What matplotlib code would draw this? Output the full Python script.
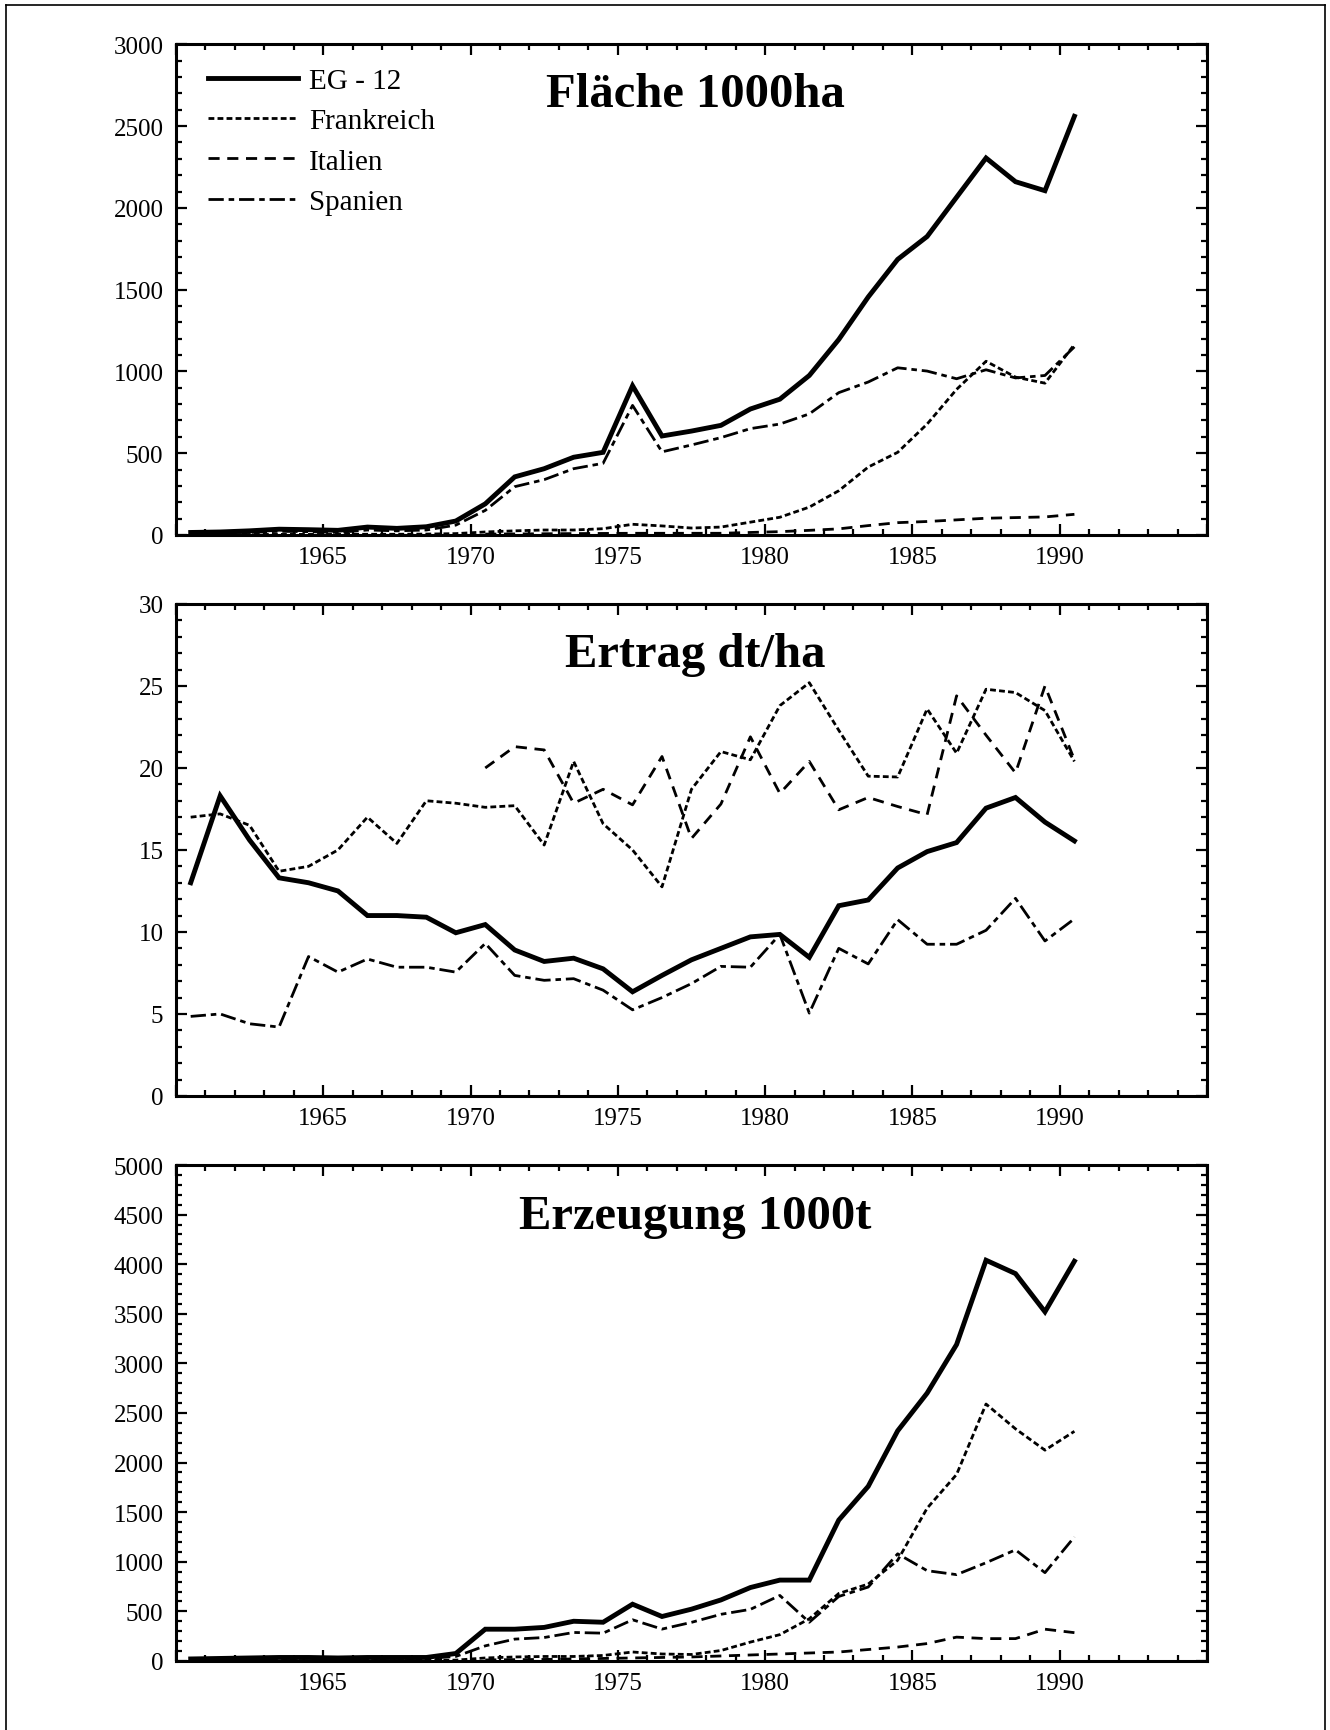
import matplotlib
matplotlib.use("Agg")
import matplotlib.pyplot as plt
from matplotlib.lines import Line2D
from matplotlib.ticker import MultipleLocator
import numpy as np

plt.rcParams['font.family'] = ['Liberation Serif', 'DejaVu Serif']
plt.rcParams['lines.scale_dashes'] = False

# Jahre 1960-1990, Werte jeweils zur Jahresmitte
years = list(range(1960, 1991))
series_names = ['EG - 12', 'Frankreich', 'Italien', 'Spanien']
NA = None

# Fläche 1000ha
eg12_flaeche = [15, 18, 25, 35, 32, 28, 48, 40, 50, 85, 190, 355, 405, 475, 505, 912,
                605, 635, 670, 770, 830, 975, 1195, 1455, 1685, 1825, 2065, 2305, 2160, 2105, 2560]
frankreich_flaeche = [2, 2, 3, 3, 3, 3, 4, 4, 5, 8, 18, 25, 30, 30, 38, 65,
                      55, 42, 48, 78, 108, 170, 270, 415, 505, 678, 890, 1062, 965, 928, 1165]
italien_flaeche = [NA] * 10 + [5, 6, 7, 8, 9, 10, 10, 10, 10, 15, 20, 28, 37, 57, 75, 82,
                               92, 102, 106, 110, 126]
spanien_flaeche = [8, 10, 15, 22, 20, 15, 30, 25, 30, 60, 150, 295, 338, 405, 438, 792,
                   508, 550, 595, 650, 678, 740, 870, 935, 1022, 1002, 955, 1010, 960, 975, 1150]

# Ertrag dt/ha
eg12_ertrag = [13.0, 18.3, 15.6, 13.3, 13.0, 12.5, 11.0, 11.0, 10.9, 9.95, 10.45, 8.9, 8.2,
               8.4, 7.75, 6.35, 7.35, 8.3, 9.0, 9.7, 9.85, 8.45, 11.6, 11.95, 13.9, 14.9,
               15.45, 17.55, 18.2, 16.7, 15.55]
frankreich_ertrag = [17.0, 17.2, 16.5, 13.7, 14.0, 15.0, 17.0, 15.4, 18.0, 17.85, 17.6, 17.7,
                     15.3, 20.4, 16.6, 15.0, 12.75, 18.7, 21.0, 20.5, 23.8, 25.2, 22.3, 19.5,
                     19.45, 23.6, 20.9, 24.8, 24.6, 23.5, 20.4]
italien_ertrag = [NA] * 10 + [20.0, 21.3, 21.1, 17.85, 18.7, 17.75, 20.7, 15.7, 17.8, 21.9,
                              18.45, 20.4, 17.45, 18.2, 17.65, 17.15, 24.4, 22.0, 19.7, 25.0, 20.5]
spanien_ertrag = [4.85, 5.0, 4.4, 4.2, 8.5, 7.55, 8.35, 7.85, 7.85, 7.55, 9.3, 7.35, 7.05,
                  7.15, 6.45, 5.25, 6.0, 6.85, 7.9, 7.85, 9.85, 5.05, 9.0, 8.05, 10.75, 9.25,
                  9.25, 10.1, 12.05, 9.45, 10.8]

# Erzeugung 1000t
eg12_erzeugung = [20, 25, 30, 35, 35, 30, 35, 35, 35, 75, 320, 320, 338, 400, 390, 572,
                  448, 522, 615, 740, 815, 815, 1420, 1760, 2320, 2700, 3190, 4040, 3905, 3520, 4030]
frankreich_erzeugung = [2, 2, 2, 3, 3, 3, 4, 4, 5, 8, 30, 40, 45, 45, 55, 90,
                        70, 65, 105, 190, 265, 425, 680, 775, 1015, 1540, 1880, 2590, 2340, 2125, 2315]
italien_erzeugung = [NA] * 10 + [10, 13, 15, 20, 25, 30, 35, 40, 50, 60, 70, 80, 90, 115,
                                 140, 175, 240, 225, 225, 320, 285]
spanien_erzeugung = [15, 18, 20, 25, 25, 20, 25, 25, 25, 45, 152, 220, 236, 287, 280, 415,
                     321, 389, 470, 520, 660, 390, 650, 745, 1080, 910, 870, 990, 1120, 890, 1250]

panels = [
    ('Fläche 1000ha', [eg12_flaeche, frankreich_flaeche, italien_flaeche, spanien_flaeche],
     3000, 500, 100),
    ('Ertrag dt/ha', [eg12_ertrag, frankreich_ertrag, italien_ertrag, spanien_ertrag],
     30, 5, 1),
    ('Erzeugung 1000t', [eg12_erzeugung, frankreich_erzeugung, italien_erzeugung, spanien_erzeugung],
     5000, 500, 100),
]

styles = [
    dict(lw=3.5, ls='-'),
    dict(lw=2.0, dashes=(4.2, 2.3)),
    dict(lw=2.0, dashes=(8, 5.5)),
    dict(lw=2.0, dashes=(11, 3.5, 4, 3.5)),
]

fig = plt.figure(figsize=(13.3, 17.31), dpi=100)
# (bottom, height) in figure fraction
boxes = [(0.6904, 0.2834), (0.3663, 0.2842), (0.0399, 0.2865)]

x = np.array(years) + 0.5
for (title, data, ymax, ymaj, ymin), (b, h) in zip(panels, boxes):
    ax = fig.add_axes([0.1323, b, 0.7752, h])
    for vals, name, st in zip(data, series_names, styles):
        y = np.array([np.nan if v is None else v for v in vals], dtype=float)
        ax.plot(x, y, color='black', label=name, solid_joinstyle='miter', **st)
    ax.set_xlim(1960, 1995)
    ax.set_ylim(0, ymax)
    ax.set_xticks(range(1960, 1996, 5))
    ax.set_xticklabels([''] + [str(t) for t in range(1965, 1991, 5)] + [''])
    ax.xaxis.set_minor_locator(MultipleLocator(1))
    ax.yaxis.set_major_locator(MultipleLocator(ymaj))
    ax.yaxis.set_minor_locator(MultipleLocator(ymin))
    ax.tick_params(which='both', direction='in', top=True, right=True, width=1.6)
    ax.tick_params(which='major', length=8, labelsize=18)
    ax.tick_params(which='minor', length=4.5)
    ax.tick_params(axis='y', pad=9)
    ax.tick_params(axis='x', pad=8)
    for sp in ax.spines.values():
        sp.set_linewidth(2.2)
    ax.text(0.504, 0.898, title, transform=ax.transAxes, ha='center', va='center',
            fontsize=35, fontweight='bold')
    if title.startswith('Fläche'):
        ax.legend(loc='upper left', bbox_to_anchor=(0.031, 0.953), frameon=False,
                  fontsize=21, handlelength=3.1, handletextpad=0.38,
                  labelspacing=0.48, borderpad=0, borderaxespad=0)

# Rahmen um die ganze Seite
for xs, ys in [([0.0045, 0.0045], [0, 0.9966]), ([0.0045, 0.996], [0.9966, 0.9966]),
               ([0.996, 0.996], [0, 0.9966])]:
    fig.add_artist(Line2D(xs, ys, color='black', lw=1.2, transform=fig.transFigure))

fig.savefig('out.png', dpi=100)
